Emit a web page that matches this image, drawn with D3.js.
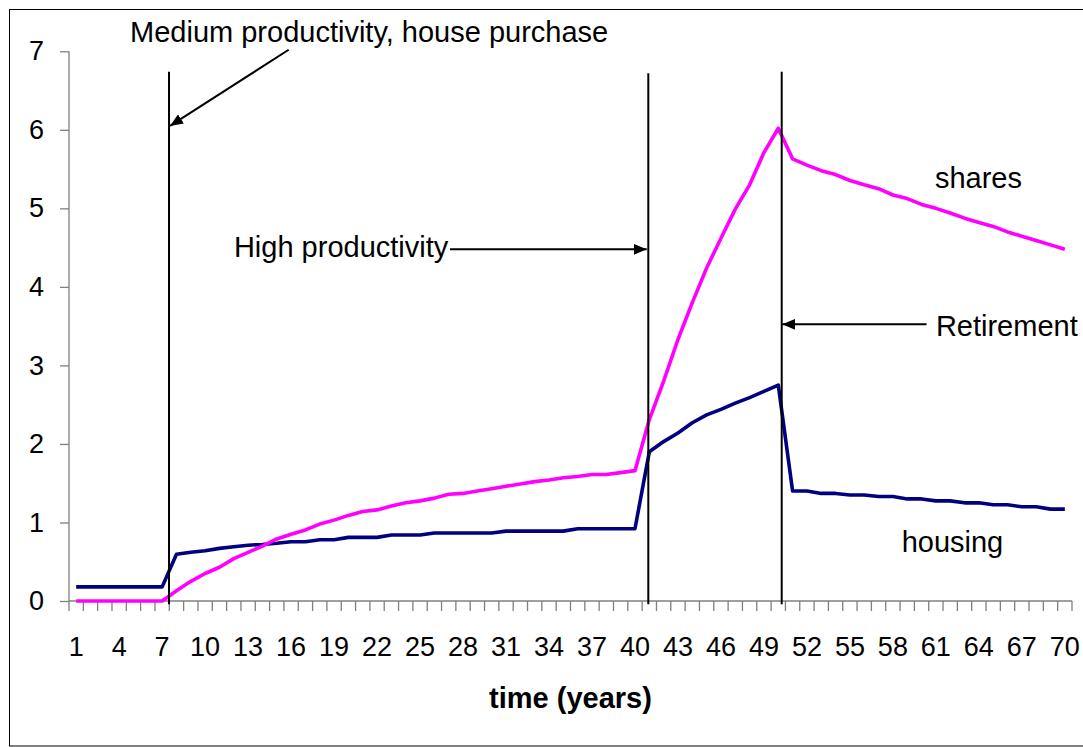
<!DOCTYPE html>
<html>
<head>
<meta charset="utf-8">
<script src="https://cdn.jsdelivr.net/npm/d3@7"></script>
<style>
  html, body { margin: 0; padding: 0; background: #fff; }
  svg { display: block; }
  text { font-family: "Liberation Sans", Arial, sans-serif; fill: #000; }
</style>
</head>
<body>
<svg id="chart" width="1083" height="747"></svg>
<script>
// ---- data ----
const years = d3.range(1, 71);
const tickLabels = [1,4,7,10,13,16,19,22,25,28,31,34,37,40,43,46,49,52,55,58,61,64,67,70];
const yTicks = [0,1,2,3,4,5,6,7];

const housing = [
  0.18,0.18,0.18,0.18,0.18,0.18,0.18,
  0.595,0.62,0.64,0.67,0.69,0.71,0.72,0.735,0.755,0.755,0.78,0.78,0.81,0.81,0.81,0.84,0.84,0.84,
  0.865,0.865,0.865,0.865,0.865,0.89,0.89,0.89,0.89,0.89,0.92,0.92,0.92,0.92,0.92,
  1.90,2.03,2.14,2.27,2.37,2.44,2.52,2.59,2.67,2.75,
  1.40,1.40,1.37,1.37,1.35,1.35,1.33,1.33,1.30,1.30,1.275,1.275,1.25,1.25,1.225,1.225,1.20,1.20,1.17,1.17
];
const shares = [
  0,0,0,0,0,0,0,
  0.13,0.25,0.35,0.43,0.54,0.62,0.70,0.79,0.85,0.905,0.98,1.03,1.09,1.14,1.16,1.21,1.25,1.275,1.31,1.36,
  1.37,1.40,1.43,1.46,1.49,1.52,1.54,1.57,1.585,1.61,1.61,1.635,1.66,
  2.31,2.80,3.33,3.80,4.24,4.62,4.99,5.30,5.71,6.02,
  5.63,5.55,5.48,5.43,5.355,5.30,5.25,5.17,5.125,5.05,5.00,4.94,4.875,4.82,4.77,4.70,4.645,4.59,4.535,4.48
];

// annotation lines and labels, positioned in data units (category, value)
const vLines = [
  {c: 7.48, top: 6.74},
  {c: 40.93, top: 6.72},
  {c: 50.24, top: 6.74}
];
const arrows = [
  {c1: 15.83, v1: 7.02, c2: 7.55, v2: 6.05},
  {c1: 27.09, v1: 4.478, c2: 40.82, v2: 4.478},
  {c1: 60.35, v1: 3.523, c2: 50.28, v2: 3.523}
];
const labels = [
  {text: "Medium productivity, house purchase", c: 4.76, v: 7.12},
  {text: "High productivity", c: 12.01, v: 4.377},
  {text: "Retirement", c: 61.0, v: 3.375},
  {text: "shares", c: 60.93, v: 5.255},
  {text: "housing", c: 58.61, v: 0.628}
];

// ---- layout ----
const svg = d3.select("#chart");
const plot = {left: 69, right: 1072, top: 51.3, bottom: 601};

const x = d3.scaleLinear().domain([0.5, 70.5]).range([plot.left, plot.right]);
const y = d3.scaleLinear().domain([0, 7]).range([plot.bottom, plot.top]);

// outer border
svg.append("rect")
  .attr("x", 9.5).attr("y", 9.5)
  .attr("width", 1090).attr("height", 736.5)
  .attr("fill", "none").attr("stroke", "#000").attr("stroke-width", 1);

// y axis
const yAxis = d3.axisLeft(y).tickValues(yTicks).tickSize(9).tickPadding(16).tickFormat(d3.format("d"));
const gy = svg.append("g").attr("transform", `translate(${plot.left},0)`).call(yAxis);
gy.select(".domain").attr("stroke", "#808080").attr("stroke-width", 1.3).attr("d", `M0,${plot.bottom}V${plot.top}`);
gy.selectAll(".tick line").attr("stroke", "#808080").attr("stroke-width", 1.3);
gy.selectAll(".tick text").style("font-size", "27px").style("font-family", "'Liberation Sans', Arial, sans-serif").attr("fill", "#000");

// x axis: tick marks between categories
const boundaries = d3.range(0, 71).map(i => i + 0.5);
const gxTicks = svg.append("g");
gxTicks.append("line")
  .attr("x1", plot.left).attr("x2", plot.right)
  .attr("y1", plot.bottom).attr("y2", plot.bottom)
  .attr("stroke", "#808080").attr("stroke-width", 1.3);
gxTicks.selectAll("line.tk").data(boundaries).enter().append("line")
  .attr("class", "tk")
  .attr("x1", d => x(d)).attr("x2", d => x(d))
  .attr("y1", plot.bottom).attr("y2", plot.bottom + 10)
  .attr("stroke", "#808080").attr("stroke-width", 1.3);
svg.append("g").selectAll("text").data(tickLabels).enter().append("text")
  .attr("x", d => x(d)).attr("y", 656)
  .attr("text-anchor", "middle")
  .style("font-size", "27px")
  .text(d => d);

// x axis title
svg.append("text")
  .attr("x", (plot.left + plot.right) / 2).attr("y", 708)
  .attr("text-anchor", "middle")
  .style("font-size", "29px").style("font-weight", "bold")
  .text("time (years)");

// data lines
const line = d3.line().x((d, i) => x(years[i])).y(d => y(d));
svg.append("path").datum(housing)
  .attr("d", line).attr("fill", "none")
  .attr("stroke", "#000080").attr("stroke-width", 3.6).attr("stroke-linejoin", "round");
svg.append("path").datum(shares)
  .attr("d", line).attr("fill", "none")
  .attr("stroke", "#FF00FF").attr("stroke-width", 3.6).attr("stroke-linejoin", "round");

// vertical annotation lines
svg.append("g").selectAll("line").data(vLines).enter().append("line")
  .attr("x1", d => x(d.c)).attr("x2", d => x(d.c))
  .attr("y1", d => y(d.top)).attr("y2", y(-0.04))
  .attr("stroke", "#000").attr("stroke-width", 2);

// arrows
const defs = svg.append("defs");
defs.append("marker")
  .attr("id", "arrow").attr("viewBox", "0 0 12 10")
  .attr("refX", 12).attr("refY", 5)
  .attr("markerWidth", 6.5).attr("markerHeight", 5.5)
  .attr("markerUnits", "strokeWidth")
  .attr("orient", "auto")
  .append("path").attr("d", "M0,0L12,5L0,10Z").attr("fill", "#000");
svg.append("g").selectAll("line").data(arrows).enter().append("line")
  .attr("x1", d => x(d.c1)).attr("y1", d => y(d.v1))
  .attr("x2", d => x(d.c2)).attr("y2", d => y(d.v2))
  .attr("stroke", "#000").attr("stroke-width", 2)
  .attr("marker-end", "url(#arrow)");

// labels
svg.append("g").selectAll("text").data(labels).enter().append("text")
  .attr("x", d => x(d.c)).attr("y", d => y(d.v))
  .style("font-size", "29px")
  .text(d => d.text);
</script>
</body>
</html>
